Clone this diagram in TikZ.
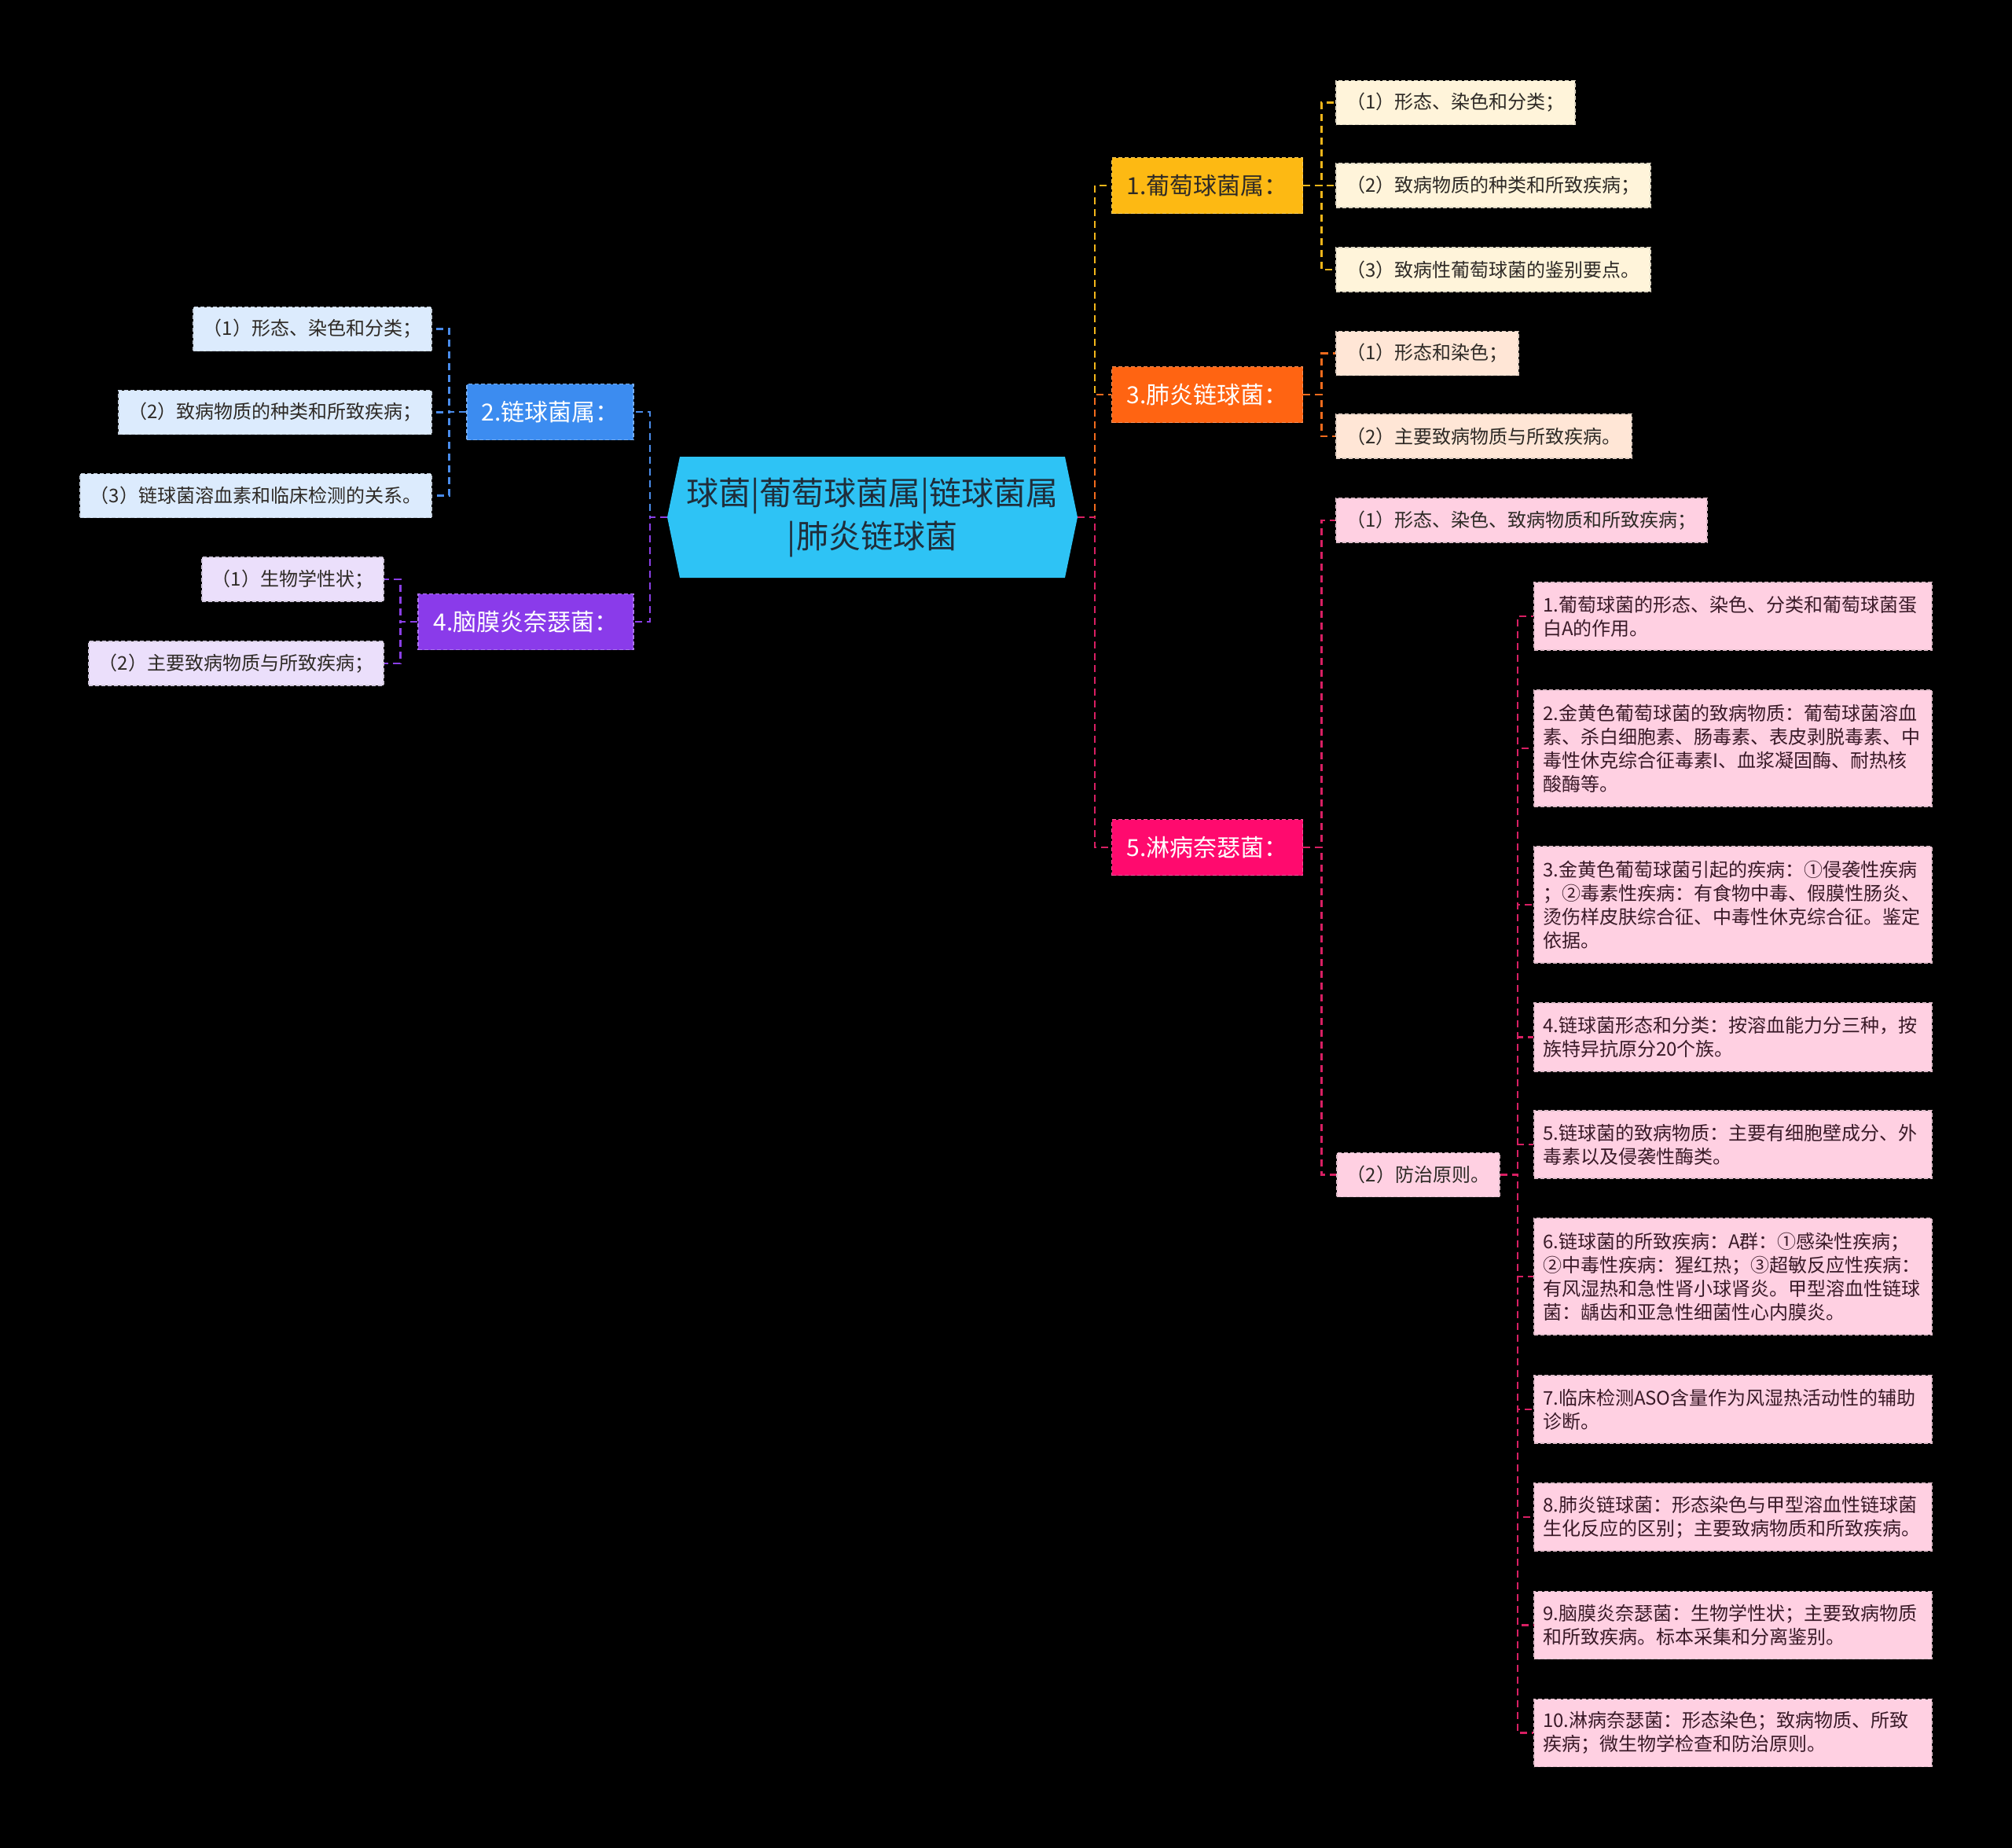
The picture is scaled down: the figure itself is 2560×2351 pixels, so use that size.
\documentclass[tikz,border=0pt]{standalone}
\usepackage{fontspec}
\setmainfont{Noto Sans CJK SC}
\usetikzlibrary{calc}
\definecolor{rootF}{HTML}{2EC3F5}
\definecolor{rootT}{HTML}{1F2D3A}
\definecolor{cA}{HTML}{FDB913}
\definecolor{cAl}{HTML}{FFF4DA}
\definecolor{lA}{HTML}{F2B61A}
\definecolor{cB}{HTML}{3C8CF0}
\definecolor{cBl}{HTML}{DCEBFD}
\definecolor{lB}{HTML}{4A8CEB}
\definecolor{cC}{HTML}{FF6412}
\definecolor{cCl}{HTML}{FFE6D6}
\definecolor{lC}{HTML}{F26B1D}
\definecolor{cD}{HTML}{8A3BEA}
\definecolor{cDl}{HTML}{EBDFFB}
\definecolor{lD}{HTML}{8A3FE6}
\definecolor{cE}{HTML}{FF0A6E}
\definecolor{cEl}{HTML}{FFD0E2}
\definecolor{lE}{HTML}{D81F63}
\definecolor{txtD}{HTML}{2E2A26}
\definecolor{txtP}{HTML}{3A1A28}
\begin{document}
\begin{tikzpicture}[x=1pt,y=-1pt,
  conn/.style={line width=2.5pt, dash pattern=on 9pt off 6pt},
  boxbase/.style={inner sep=0pt, line width=1.5pt, dash pattern=on 5pt off 3pt},
  lvone/.style={boxbase, minimum width=#1, minimum height=71pt, font=\fontsize{30}{36}\selectfont, text=white},
  lvtwo/.style={boxbase, minimum width=#1, minimum height=56pt, font=\fontsize{24}{30}\selectfont, text=txtD},
  pbox/.style={boxbase, inner xsep=11pt, inner ysep=4pt, text width=484pt, align=left, minimum height=#1,
     font=\fontsize{24}{30}\selectfont, text=txtP, fill=cEl, draw=cEl!75!gray},
  rootnode/.style={inner sep=0pt, minimum width=522pt, minimum height=154pt, align=center,
     text=rootT, font=\fontsize{41}{55}\selectfont}
]
\fill[black] (0,0) rectangle (2560,2351);
\useasboundingbox (0,0) rectangle (2560,2351);

% root hexagon
\coordinate (rc) at (1110,658);
\fill[rootF] ($(rc)+(-261,0)$) -- ($(rc)+(-245,-77)$) -- ($(rc)+(245,-77)$) -- ($(rc)+(261,0)$)
   -- ($(rc)+(245,77)$) -- ($(rc)+(-245,77)$) -- cycle;
\node[rootnode] (root) at (rc) {球菌|葡萄球菌属|链球菌属\\|肺炎链球菌};

% level one
\node[lvone=243pt, fill=cA, draw=cA!70!white, text=txtD] (n1) at (1536,236) {1.葡萄球菌属：};
\node[lvone=243pt, fill=cC, draw=cC!70!white] (n3) at (1536,502) {3.肺炎链球菌：};
\node[lvone=243pt, fill=cE, draw=cE!70!white] (n5) at (1536,1078) {5.淋病奈瑟菌：};
\node[lvone=212pt, fill=cB, draw=cB!70!white] (n2) at (700,524) {2.链球菌属：};
\node[lvone=274pt, fill=cD, draw=cD!70!white] (n4) at (669,791) {4.脑膜炎奈瑟菌：};

% level two
\node[lvtwo=304pt, fill=cAl, draw=cAl!75!gray] (n1a) at (1852,130.5) {（1）形态、染色和分类；};
\node[lvtwo=400pt, fill=cAl, draw=cAl!75!gray] (n1b) at (1900,236) {（2）致病物质的种类和所致疾病；};
\node[lvtwo=400pt, fill=cAl, draw=cAl!75!gray] (n1c) at (1900,343) {（3）致病性葡萄球菌的鉴别要点。};
\node[lvtwo=232pt, fill=cCl, draw=cCl!75!gray] (n3a) at (1816,449.5) {（1）形态和染色；};
\node[lvtwo=376pt, fill=cCl, draw=cCl!75!gray] (n3b) at (1888,555) {（2）主要致病物质与所致疾病。};
\node[lvtwo=472pt, fill=cEl, draw=cEl!75!gray] (n5a) at (1936,662) {（1）形态、染色、致病物质和所致疾病；};
\node[lvtwo=207pt, fill=cEl, draw=cEl!75!gray] (n5b) at (1804.5,1494.5) {（2）防治原则。};
\node[lvtwo=303pt, fill=cBl, draw=cBl!75!gray] (n2a) at (397.5,418.5) {（1）形态、染色和分类；};
\node[lvtwo=398pt, fill=cBl, draw=cBl!75!gray] (n2b) at (350,524.5) {（2）致病物质的种类和所致疾病；};
\node[lvtwo=447pt, fill=cBl, draw=cBl!75!gray] (n2c) at (325.5,630.5) {（3）链球菌溶血素和临床检测的关系。};
\node[lvtwo=231pt, fill=cDl, draw=cDl!75!gray] (n4a) at (372.5,737) {（1）生物学性状；};
\node[lvtwo=375pt, fill=cDl, draw=cDl!75!gray] (n4b) at (300.5,844) {（2）主要致病物质与所致疾病；};

% level three (pink detail boxes)
\node[pbox=86pt] (p1) at (2205,784) {1.葡萄球菌的形态、染色、分类和葡萄球菌蛋\\白A的作用。};
\node[pbox=148pt] (p2) at (2205,952) {2.金黄色葡萄球菌的致病物质：葡萄球菌溶血\\素、杀白细胞素、肠毒素、表皮剥脱毒素、中\\毒性休克综合征毒素I、血浆凝固酶、耐热核\\酸酶等。};
\node[pbox=148pt] (p3) at (2205,1151) {3.金黄色葡萄球菌引起的疾病：①侵袭性疾病\\；②毒素性疾病：有食物中毒、假膜性肠炎、\\烫伤样皮肤综合征、中毒性休克综合征。鉴定\\依据。};
\node[pbox=87pt] (p4) at (2205,1319.5) {4.链球菌形态和分类：按溶血能力分三种，按\\族特异抗原分20个族。};
\node[pbox=86pt] (p5) at (2205,1456) {5.链球菌的致病物质：主要有细胞壁成分、外\\毒素以及侵袭性酶类。};
\node[pbox=148pt] (p6) at (2205,1624) {6.链球菌的所致疾病：A群：①感染性疾病；\\②中毒性疾病：猩红热；③超敏反应性疾病：\\有风湿热和急性肾小球肾炎。甲型溶血性链球\\菌：龋齿和亚急性细菌性心内膜炎。};
\node[pbox=86pt] (p7) at (2205,1793) {7.临床检测ASO含量作为风湿热活动性的辅助\\诊断。};
\node[pbox=86pt] (p8) at (2205,1930) {8.肺炎链球菌：形态染色与甲型溶血性链球菌\\生化反应的区别；主要致病物质和所致疾病。};
\node[pbox=86pt] (p9) at (2205,2067.5) {9.脑膜炎奈瑟菌：生物学性状；主要致病物质\\和所致疾病。标本采集和分离鉴别。};
\node[pbox=86pt] (p10) at (2205,2204.5) {10.淋病奈瑟菌：形态染色；致病物质、所致\\疾病；微生物学检查和防治原则。};

% connectors root -> level one
\draw[conn, lA] (root.east) -- ++(22,0) |- (n1.west);
\draw[conn, lC] (root.east) -- ++(22,0) |- (n3.west);
\draw[conn, lE] (root.east) -- ++(22,0) |- (n5.west);
\draw[conn, lB] (root.west) -- ++(-22,0) |- (n2.east);
\draw[conn, lD] (root.west) -- ++(-22,0) |- (n4.east);

% level one -> level two
\foreach \c in {n1a,n1b,n1c} \draw[conn, lA] (n1.east) -- ++(23,0) |- (\c.west);
\foreach \c in {n3a,n3b} \draw[conn, lC] (n3.east) -- ++(23,0) |- (\c.west);
\foreach \c in {n5a,n5b} \draw[conn, lE] (n5.east) -- ++(23,0) |- (\c.west);
\foreach \c in {n2a,n2b,n2c} \draw[conn, lB] (n2.west) -- ++(-22,0) |- (\c.east);
\foreach \c in {n4a,n4b} \draw[conn, lD] (n4.west) -- ++(-22,0) |- (\c.east);

% level two -> level three
\foreach \c in {p1,p2,p3,p4,p5,p6,p7,p8,p9,p10} \draw[conn, lE] (n5b.east) -- ++(22,0) |- (\c.west);
\end{tikzpicture}
\end{document}
